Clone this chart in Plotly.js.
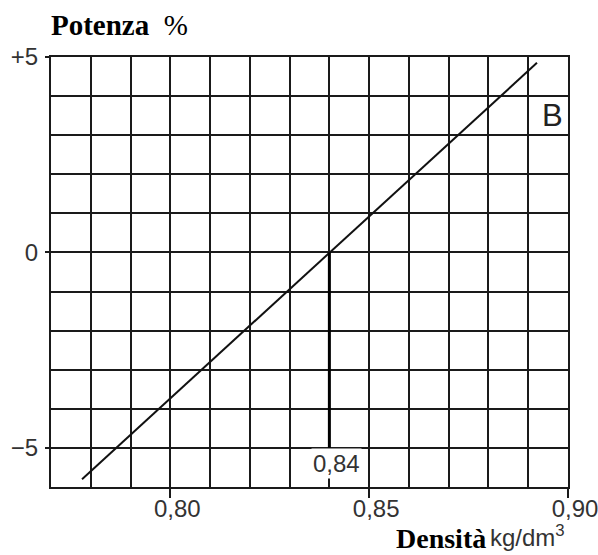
<!DOCTYPE html>
<html>
<head>
<meta charset="utf-8">
<script src="https://cdn.plot.ly/plotly-3.0.1.min.js"></script>
<style>html,body{margin:0;padding:0;background:#fff;}</style>
</head>
<body>
<div id="chart" style="width:598px;height:555px;"></div>
<script>
// Data
const lineDensity = [0.7778, 0.8922];
const linePower = [-5.8, 4.85];
const markerDensity = [0.84, 0.84];
const markerPower = [0, -5];
const xTickVals = [0.80, 0.85, 0.90];
const xTickText = ['0,80', '0,85', '0,90'];
const yTickVals = [-5, 0, 5];
const yTickText = ['\u22125', '0', '+5'];
const markerLabel = '0,84';
const curveLabel = 'B';

const traces = [
  {x: lineDensity, y: linePower, mode: 'lines', line: {color: '#111', width: 2}, hoverinfo: 'skip', showlegend: false},
  {x: markerDensity, y: markerPower, mode: 'lines', line: {color: '#000', width: 3}, hoverinfo: 'skip', showlegend: false}
];

const gridCol = '#1a1a1a';
const tickFont = {family: 'Liberation Sans, Arial, sans-serif', size: 24, color: '#333'};

const layout = {
  width: 598, height: 555,
  margin: {l: 51, r: 30, t: 57, b: 68, pad: 0},
  paper_bgcolor: '#fff', plot_bgcolor: '#fff',
  showlegend: false,
  xaxis: {
    range: [0.77, 0.90], tickmode: 'array', tickvals: xTickVals, ticktext: xTickText,
    ticks: 'outside', ticklen: 9, tickwidth: 2, tickcolor: gridCol,
    showgrid: true, gridcolor: gridCol, gridwidth: 2,
    showline: true, linecolor: gridCol, linewidth: 2, mirror: true,
    zeroline: false, tickfont: tickFont, ticklabelshift: 7, ticklabelstandoff: -10,
    ticklabeloverflow: 'allow',
    minor: {tick0: 0.77, dtick: 0.01, showgrid: true, gridcolor: gridCol, gridwidth: 2, ticks: ''}
  },
  yaxis: {
    range: [-6, 5], tickmode: 'array', tickvals: yTickVals, ticktext: yTickText,
    ticks: 'outside', ticklen: 4, tickwidth: 2, tickcolor: gridCol,
    showgrid: true, gridcolor: gridCol, gridwidth: 2,
    showline: true, linecolor: gridCol, linewidth: 2, mirror: true,
    zeroline: false, tickfont: tickFont, ticklabelstandoff: 2,
    ticklabeloverflow: 'allow',
    minor: {tick0: -6, dtick: 1, showgrid: true, gridcolor: gridCol, gridwidth: 2, ticks: ''}
  },
  annotations: [
    {xref: 'paper', yref: 'paper', x: 0, y: 1, xshift: -2, yshift: 14, xanchor: 'left', yanchor: 'bottom',
     text: '<b>Potenza</b>  %', showarrow: false,
     font: {family: 'Liberation Serif, Times New Roman, serif', size: 29, color: '#000'}},
    {xref: 'paper', yref: 'paper', x: 1, y: 0, xshift: -80, yshift: -34, xanchor: 'right', yanchor: 'top',
     text: '<b>Densità</b>', showarrow: false,
     font: {family: 'Liberation Serif, Times New Roman, serif', size: 28, color: '#000'}},
    {xref: 'paper', yref: 'paper', x: 1, y: 0, xshift: -80, yshift: -32, xanchor: 'left', yanchor: 'top',
     text: 'kg/dm<sup>3</sup>', showarrow: false,
     font: {family: 'Liberation Sans, Arial, sans-serif', size: 24, color: '#333'}},
    {x: markerDensity[1], y: markerPower[1], xanchor: 'center', yanchor: 'top', xshift: 7, yshift: 0,
     text: markerLabel, showarrow: false, bgcolor: '#fff',
     font: {family: 'Liberation Sans, Arial, sans-serif', size: 24, color: '#333'}},
    {x: 0.8992, y: 3.5, xanchor: 'right', yanchor: 'middle',
     text: curveLabel, showarrow: false,
     font: {family: 'Liberation Sans, Arial, sans-serif', size: 31, color: '#222'}}
  ]
};

Plotly.newPlot('chart', traces, layout, {staticPlot: true, displayModeBar: false});
</script>
</body>
</html>
